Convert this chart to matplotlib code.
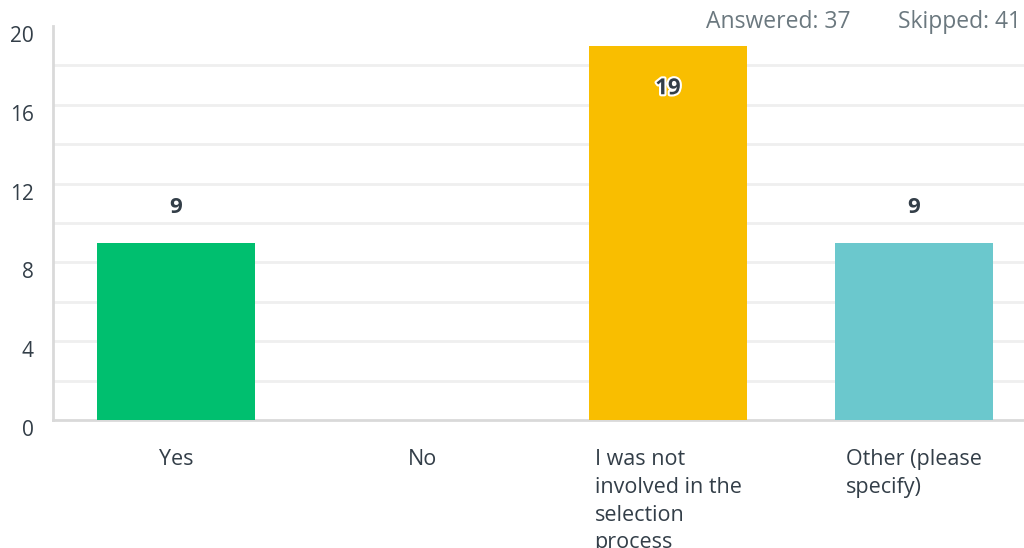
import numpy as np
import matplotlib.pyplot as plt
import matplotlib.patheffects as pe

plt.rcParams['font.family'] = ['Open Sans', 'DejaVu Sans']

categories = ["Yes", "No", "I was not\ninvolved in the\nselection\nprocess", "Other (please\nspecify)"]
counts = [9, 0, 19, 9]
colors = ["#00bf6f", "#00bf6f", "#f9be00", "#6bc8cd"]
answered = 37
skipped = 41

fig = plt.figure(figsize=(10.24, 5.48), dpi=100)
ax = fig.add_axes([53 / 1024, 1 - 420 / 548, 984 / 1024, (420 - 26) / 548])

x = np.arange(len(categories))
bars = ax.bar(x, counts, width=0.64, color=colors, zorder=3)

ax.set_xlim(-0.5, 3.5)
ax.set_ylim(0, 20)
ax.set_yticks(np.arange(0, 21, 4))
# light grid every 2, none on the top edge
for g in np.arange(2, 20, 2):
    ax.axhline(g, color='#efefef', linewidth=2, zorder=0)
ax.tick_params(axis='y', which='both', length=0, labelsize=15, labelcolor='#333e48', pad=14)
for lab in ax.get_yticklabels():
    lab.set_verticalalignment('top')
ax.tick_params(axis='x', length=0)
ax.set_xticks(x)
ax.set_xticklabels([])

for xi, cat in zip(x, categories):
    ax.annotate(cat, xy=(xi, 0), xytext=(0, -21), textcoords='offset points',
                ha='center', va='top', multialignment='left', fontsize=15.5,
                color='#333e48', linespacing=1.42, annotation_clip=False)

for spine in ['top', 'right']:
    ax.spines[spine].set_visible(False)
ax.spines['left'].set_color('#d9d9d9')
ax.spines['left'].set_linewidth(2)
ax.spines['bottom'].set_color('#d9d9d9')
ax.spines['bottom'].set_linewidth(2)

for xi, v in zip(x, counts):
    if v == 0:
        continue
    if v >= 15:
        t = ax.annotate(str(v), xy=(xi, v), xytext=(0, -31), textcoords='offset points',
                        ha='center', va='center', fontsize=16, fontweight='bold', color='#333e48', zorder=5)
        t.set_path_effects([pe.withStroke(linewidth=3, foreground='white')])
    else:
        ax.annotate(str(v), xy=(xi, v), xytext=(0, 25), textcoords='offset points',
                    ha='center', va='center', fontsize=16, fontweight='bold', color='#333e48', zorder=5)

fig.text(706 / 1024, 1 - 22 / 548, f"Answered: {answered}", fontsize=16.5, color='#6b787f', va='center')
fig.text(898 / 1024, 1 - 22 / 548, f"Skipped: {skipped}", fontsize=16.5, color='#6b787f', va='center')

fig.savefig("out.png", dpi=100)
